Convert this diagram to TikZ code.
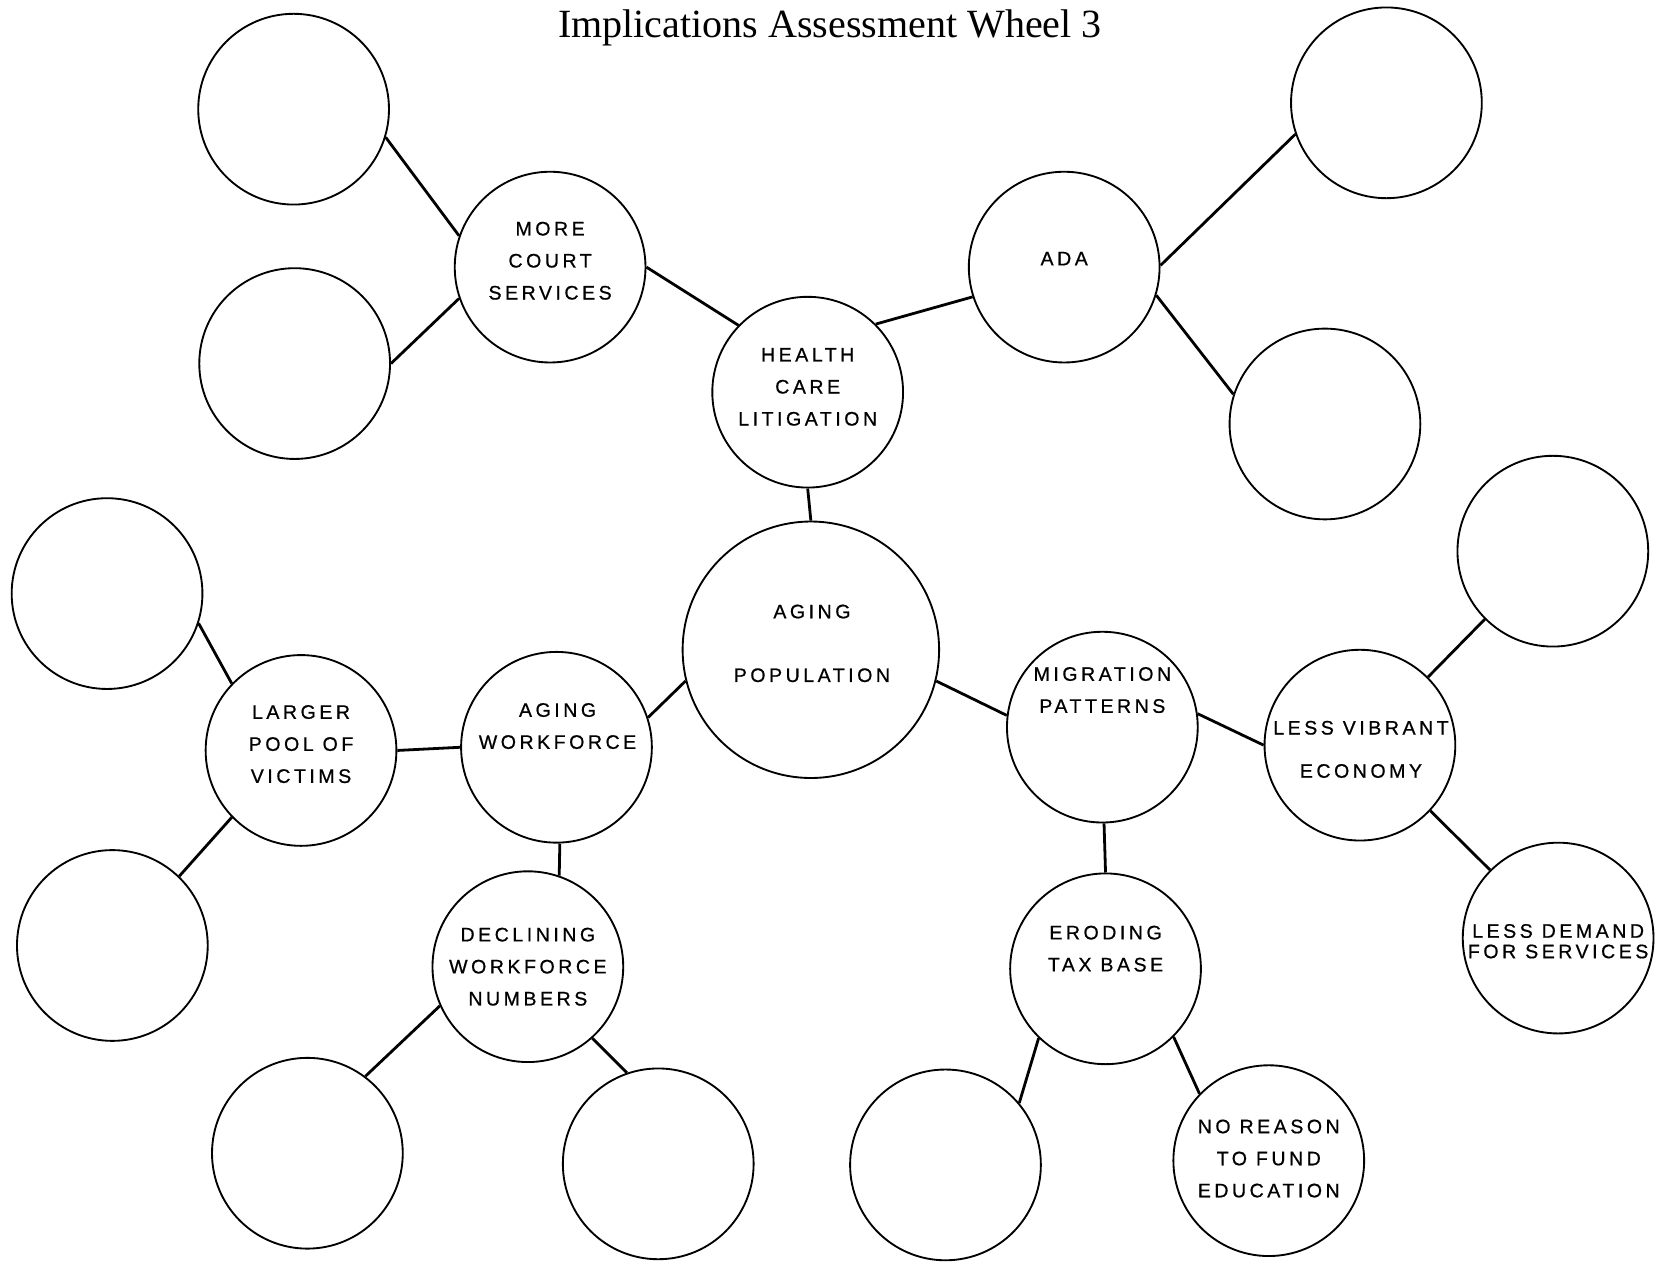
\documentclass[tikz,border=0pt]{standalone}
\usepackage{fontspec}
\setmainfont{Liberation Serif}
\newfontfamily\wheelfont[LetterSpace=18, FakeBold=0.7]{Liberation Sans}
\usepackage{tikz}

\tikzset{
  ring/.style={draw, circle, line width=1pt, inner sep=0pt, minimum size=3.6cm},
  bigring/.style={ring, minimum size=4.84cm},
  tag/.style={font=\wheelfont\fontsize{10.5}{17.2}\selectfont, align=center, inner sep=0pt},
  spoke/.style={line width=1.5pt}
}

\begin{document}
\begin{tikzpicture}[x=0.02cm, y=-0.02cm]
                \useasboundingbox (0,0) rectangle (1568,1194);
                \node [font=\fontsize{21.5}{24}\selectfont] (title) at (783,26) {Implications Assessment Wheel 3};

                \node [bigring] (ap) at (765,613) {};
                \node [ring] (hcl) at (762,370) {};
                \node [ring] (mcs) at (519,252) {};
                \node [ring] (ada) at (1004,252) {};
                \node [ring] (tl1) at (277,103) {};
                \node [ring] (tl2) at (278,343) {};
                \node [ring] (tr1) at (1308,97) {};
                \node [ring] (tr2) at (1250,400) {};
                \node [ring] (mp) at (1040,686) {};
                \node [ring] (lve) at (1283,703) {};
                \node [ring] (r1) at (1465,520) {};
                \node [ring] (ldfs) at (1470,885) {};
                \node [ring] (etb) at (1043,914) {};
                \node [ring] (b1) at (892,1099) {};
                \node [ring] (nrfe) at (1197,1095) {};
                \node [ring] (aw) at (525,705) {};
                \node [ring] (lpv) at (284,708) {};
                \node [ring] (l1) at (101,560) {};
                \node [ring] (l2) at (106,892) {};
                \node [ring] (dwn) at (498,912) {};
                \node [ring] (bl) at (290,1088) {};
                \node [ring] (br) at (621,1098) {};

                \node [tag] (apt) at (766,607) {AGING\\[17pt]POPULATION};
                \node [tag] (hclt) at (762,365) {HEALTH\\CARE\\LITIGATION};
                \node [tag] (mcst) at (519,246) {MORE\\COURT\\SERVICES};
                \node [tag] (adat) at (1004,244) {ADA};
                \node [tag] (mpt) at (1040,651) {MIGRATION\\PATTERNS};
                \node [tag] (lvet) at (1284,707) {LESS VIBRANT\\[6pt]ECONOMY};
                \node [tag, font=\wheelfont\fontsize{10.5}{11}\selectfont] (ldfst) at (1470,888) {LESS DEMAND\\FOR SERVICES};
                \node [tag] (etbt) at (1043,895) {ERODING\\TAX BASE};
                \node [tag] (nrfet) at (1197,1093) {NO REASON\\TO FUND\\EDUCATION};
                \node [tag] (awt) at (526,685) {AGING\\WORKFORCE};
                \node [tag] (lpvt) at (284,702) {LARGER\\POOL OF\\VICTIMS};
                \node [tag] (dwnt) at (498,912) {DECLINING\\WORKFORCE\\NUMBERS};

                \draw [spoke] (tl1.-17) -- (mcs.161);
                \draw [spoke] (tl2.0) -- (mcs.199);
                \draw [spoke] (mcs.0) -- (hcl.136);
                \draw [spoke] (hcl.45) -- (ada.198);
                \draw [spoke] (ada.1) -- (tr1.199);
                \draw [spoke] (ada.-17) -- (tr2.162);
                \draw [spoke] (hcl.-90) -- (ap.90);
                \draw [spoke] (ap.194) -- (aw.18);
                \draw [spoke] (ap.-14) -- (mp.173);
                \draw [spoke] (mp.8) -- (lve.180);
                \draw [spoke] (lve.45) -- (r1.225);
                \draw [spoke] (lve.-43) -- (ldfs.135);
                \draw [spoke] (mp.-89) -- (etb.90);
                \draw [spoke] (etb.226) -- (b1.40);
                \draw [spoke] (etb.-45) -- (nrfe.136);
                \draw [spoke] (aw.180) -- (lpv.0);
                \draw [spoke] (lpv.136) -- (l1.-18);
                \draw [spoke] (lpv.224) -- (l2.46);
                \draw [spoke] (aw.-88) -- (dwn.71);
                \draw [spoke] (dwn.204) -- (bl.53);
                \draw [spoke] (dwn.-48) -- (br.109);
            \end{tikzpicture}
\end{document}
